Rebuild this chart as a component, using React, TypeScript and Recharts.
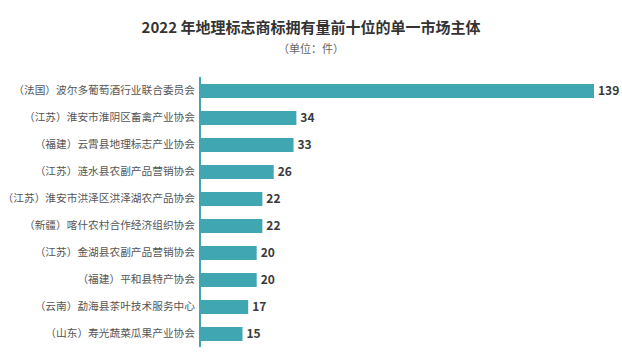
import { Bar, BarChart, LabelList, XAxis, YAxis } from "recharts";

const categories = [
  "（法国）波尔多葡萄酒行业联合委员会",
  "（江苏）淮安市淮阴区畜禽产业协会",
  "（福建）云霄县地理标志产业协会",
  "（江苏）涟水县农副产品营销协会",
  "（江苏）淮安市洪泽区洪泽湖农产品协会",
  "（新疆）喀什农村合作经济组织协会",
  "（江苏）金湖县农副产品营销协会",
  "（福建）平和县特产协会",
  "（云南）勐海县茶叶技术服务中心",
  "（山东）寿光蔬菜瓜果产业协会",
];
const counts = [139, 34, 33, 26, 22, 22, 20, 20, 17, 15];

const data = categories.map((name, i) => ({ name, value: counts[i] }));

const FONT = '"Noto Sans CJK SC", "Noto Sans", sans-serif';
const TEAL = "#3fa6b2";

export default function App() {
  return (
    <div style={{ position: "absolute", left: 0, top: 0, width: 622, height: 353, background: "#fff", fontFamily: FONT }}>
      <div style={{ position: "absolute", top: 16, width: 622, textAlign: "center", fontSize: 15, fontWeight: 700, color: "#333" }}>
        2022 年地理标志商标拥有量前十位的单一市场主体
      </div>
      <div style={{ position: "absolute", top: 40, width: 622, textAlign: "center", fontSize: 11, color: "#666" }}>
        （单位：件）
      </div>
      <div style={{ position: "absolute", left: 0, top: 0 }}>
        <BarChart width={622} height={353} data={data} layout="vertical" margin={{ top: 77, right: 28, bottom: 6, left: 0 }}>
          <XAxis type="number" domain={[0, 139]} hide />
          <YAxis
            type="category"
            dataKey="name"
            width={200}
            axisLine={{ stroke: TEAL, strokeWidth: 2 }}
            tickLine={false}
            tickSize={0}
            tickMargin={5}
            interval={0}
            tick={{ fill: "#555", fontSize: 10.7, fontFamily: FONT }}
          />
          <Bar dataKey="value" fill={TEAL} barSize={14} isAnimationActive={false}>
            <LabelList dataKey="value" position="right" offset={4} fill="#3a3a3a" fontSize={12} fontWeight={700} fontFamily={FONT} />
          </Bar>
        </BarChart>
      </div>
    </div>
  );
}
